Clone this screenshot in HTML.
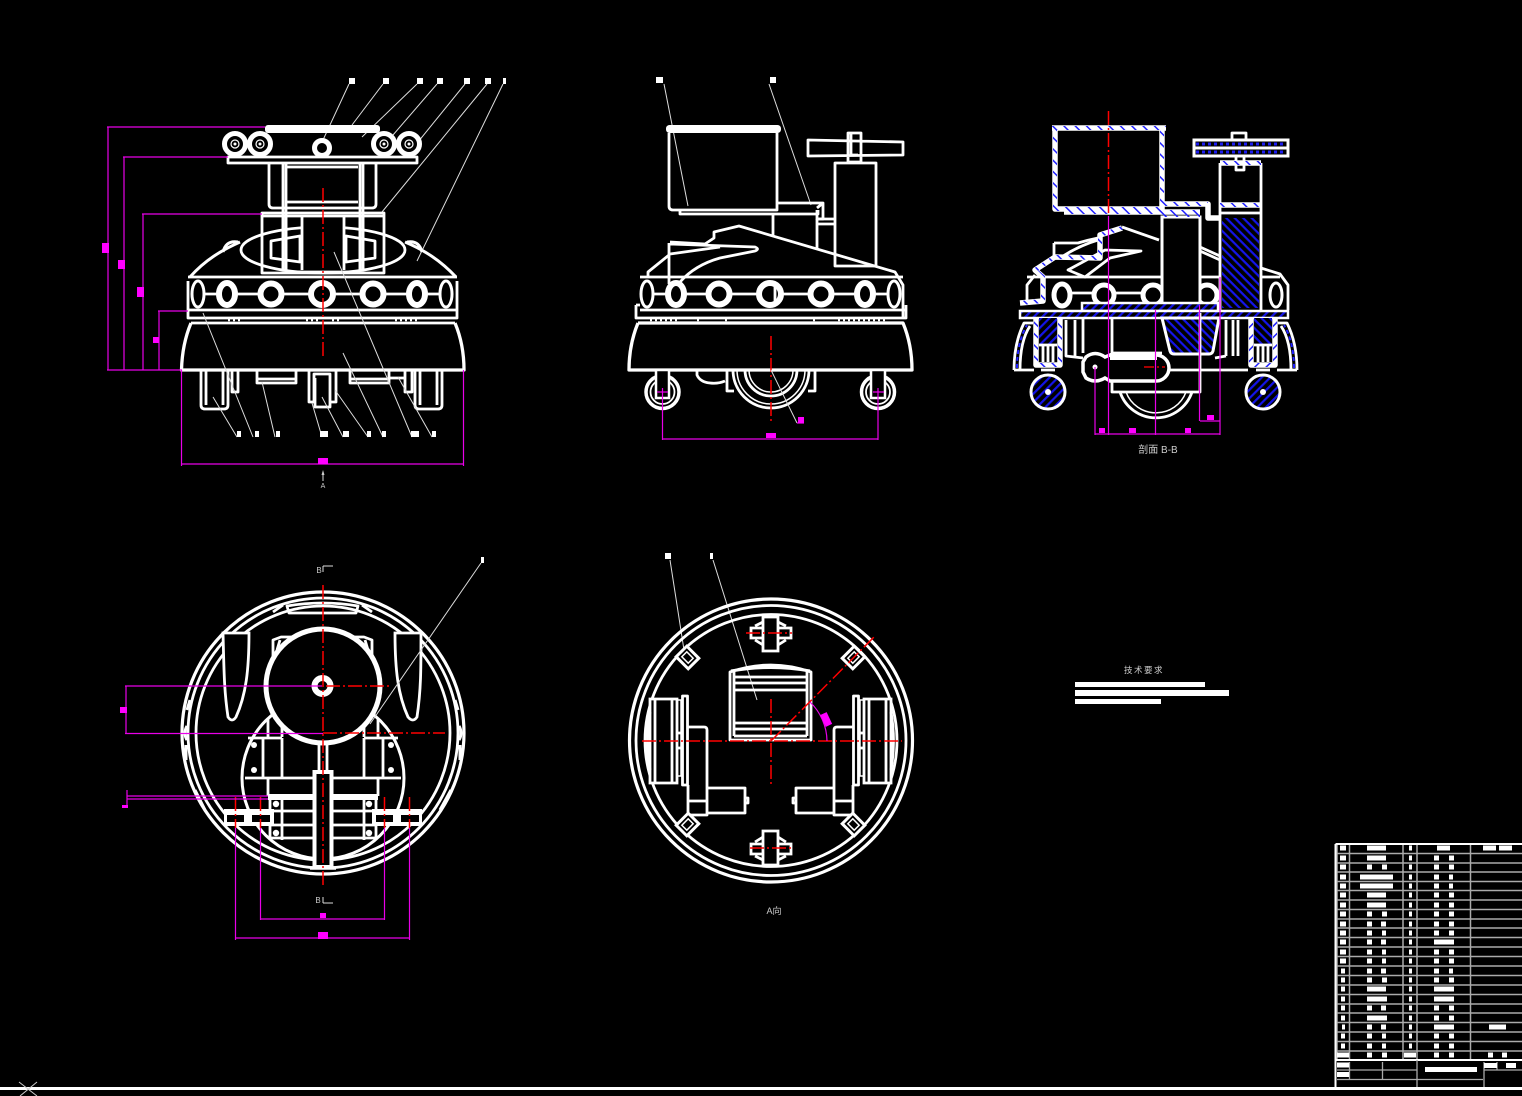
<!DOCTYPE html>
<html><head><meta charset="utf-8"><style>
html,body{margin:0;padding:0;background:#000;width:1522px;height:1096px;overflow:hidden}
svg{display:block}
.w{fill:none;stroke:#fff;stroke-width:2.8;stroke-linejoin:round}
.t{fill:none;stroke:#fff;stroke-width:1.5}
.k{fill:none;stroke:#fff;stroke-width:5;stroke-linejoin:round}
.l{fill:none;stroke:#ddd;stroke-width:1}
.m{fill:none;stroke:#e800e8;stroke-width:1.200}
.r{fill:none;stroke:#f00;stroke-width:1.5;stroke-dasharray:14 3 2 3}
.b{fill:none;stroke:#fff;stroke-width:5.500;stroke-linejoin:round}
.d{fill:none;stroke:url(#bh);stroke-width:4;stroke-linejoin:round}
.s{fill:#fff}.p{fill:#f0f}
text{font-family:"Liberation Sans","Noto Sans CJK SC",sans-serif;fill:#ccc}
</style></head><body>
<svg width="1522" height="1096" viewBox="0 0 1522 1096" xmlns="http://www.w3.org/2000/svg">
<defs>
<pattern id="h" width="6" height="6" patternUnits="userSpaceOnUse" patternTransform="rotate(45)"><rect width="6" height="6" fill="#000"/><rect width="6" height="2.200" fill="#1414e8"/></pattern>
<pattern id="g" width="6" height="6" patternUnits="userSpaceOnUse" patternTransform="rotate(-45)"><rect width="6" height="6" fill="#000"/><rect width="6" height="2.200" fill="#1414e8"/></pattern>
<pattern id="bh" width="8" height="8" patternUnits="userSpaceOnUse" patternTransform="rotate(45)"><rect width="8" height="1.500" fill="#2020ff"/></pattern>
</defs>
<rect width="1522" height="1096" fill="#000"/>

<!-- VIEW 1 -->
<g>
<path class="l" d="M349 84L323 140M383 84L352 125M417 84L362 137M437 84L393 135M465 84L418 142M487 84L382 212M503 84L417 261"/>
<path class="s" d="M349 78h6v6h-6zM383 78h6v6h-6zM417 78h6v6h-6zM437 78h6v6h-6zM464 78h6v6h-6zM485 78h6v6h-6zM503 78h3v6h-3z"/>
<rect x="265" y="125" width="115" height="8" rx="3" fill="#fff"/>
<g fill="none" stroke="#fff" stroke-width="5"><circle cx="235" cy="144" r="10.500"/><circle cx="260" cy="144" r="10.500"/><circle cx="384" cy="144" r="10.500"/><circle cx="409" cy="144" r="10.500"/><circle cx="322" cy="148" r="7.500"/></g>
<g fill="none" stroke="#fff" stroke-width="1.200"><circle cx="235" cy="144" r="4"/><circle cx="260" cy="144" r="4"/><circle cx="384" cy="144" r="4"/><circle cx="409" cy="144" r="4"/></g>
<g class="s"><circle cx="235" cy="144" r="1.500"/><circle cx="260" cy="144" r="1.500"/><circle cx="384" cy="144" r="1.500"/><circle cx="409" cy="144" r="1.500"/></g>
<rect class="w" x="228" y="157" width="189" height="6"/>
<path class="w" d="M269 163V204Q269 208 273 208H372Q376 208 376 204V163M283 163V270M286 163V270M360 163V270M363 163V270M286 167H358M286 202H358"/>
<path class="w" d="M262 213H384V273H262Z"/>
<ellipse class="w" cx="323" cy="250" rx="82" ry="23"/>
<path class="w" d="M271 241L300 236V262L271 258ZM375 241L346 236V262L375 258Z"/>
<rect x="303" y="216" width="40" height="55" fill="#000"/>
<path class="w" d="M283 215V270M286 215V270M360 215V270M363 215V270M302 217V270M344 217V270M262 216H384M286 272H360"/>
<path class="k" style="stroke-width:3" d="M190 277C205 260 222 250 240 242M456 277C440 260 424 250 405 242M223 252Q226 240 238 242M422 252Q419 240 407 242"/>
<path class="w" d="M188 277H457M188 281V318H457V281M188 310H457M188 318H457M191 323H455"/>
<path class="w" d="M200 294H446"/>
<g fill="#000" stroke="#fff"><ellipse cx="198" cy="294" rx="6" ry="13" stroke-width="3"/><ellipse cx="227" cy="294" rx="8" ry="11" stroke-width="6"/><circle cx="271" cy="294" r="10.500" stroke-width="6"/><circle cx="322" cy="294" r="11" stroke-width="6"/><circle cx="373" cy="294" r="10.500" stroke-width="6"/><ellipse cx="417" cy="294" rx="8" ry="11" stroke-width="6"/><ellipse cx="446" cy="294" rx="6" ry="13" stroke-width="3"/></g>
<path class="k" style="stroke-width:2.500" stroke-dasharray="2 3" d="M228 320h14M306 320h12M332 320h10M395 320h22"/>
<path class="k" style="stroke-width:3.300" d="M191 323C186 335 182 350 181.500 370H464C464 350 460 335 455 323"/>
<path class="w" d="M201 370V405Q201 409 205 409H224Q228 409 228 405V370M206 370V405M223 370V405M415 370V405Q415 409 419 409H438Q442 409 442 405V370M420 370V405M437 370V405"/>
<path class="w" d="M232 370V392H238V370M257 370V383H296V370M257 379H296M350 370V383H389V370M350 379H389M405 370V392H412V370M390 378H405"/>
<path class="w" d="M309 370V402H314V374H330V402H336V370M315 378V407H330V378M247 370H232"/>
<path class="r" d="M323 188V358"/>
<path class="l" d="M213 397L237 437M203 313L253 437M262 382L275 437M312 403L322 437M322 397L343 437M335 390L368 437M343 353L383 437M334 252L412 437M398 377L432 437"/>
<path class="s" d="M237 431h4v6h-4zM255 431h4v6h-4zM276 431h4v6h-4zM320 431h8v6h-8zM343 431h6v6h-6zM367 431h4v6h-4zM382 431h4v6h-4zM411 431h8v6h-8zM432 431h4v6h-4z"/>
<path class="m" d="M108 127V370M107 127H265M124 157V370M123 157H228M143 214V370M142 214H262M159 311V370M158 311H188M107 370H182M181.500 370V466M463.500 370V466M181 464H463"/>
<path class="p" d="M102 243h7v10h-7zM118 260h7v9h-7zM137 287h7v10h-7zM153 337h6v6h-6zM318 458h10v6h-10z"/>
<path class="l" d="M323 472V481"/><path fill="#ccc" d="M323 470l-1.500 5h3z"/>
<text x="323" y="488" font-size="7" text-anchor="middle">A</text>
</g>

<!-- VIEW 2 -->
<g>
<path class="l" d="M664 84L688 206M769 84L811 205"/>
<path class="s" d="M656 77h7v6h-7zM770 77h6v6h-6z"/>
<rect x="666" y="125" width="115" height="8" rx="3.500" fill="#fff"/>
<path class="w" d="M669 133V206Q669 210 673 210H777V133M680 210V214H818V210M777 203H823V219H817V210M823 203L817 208"/>
<path class="w" d="M773 214V235M817 219V249M817 219H834M817 224H834"/>
<rect class="w" x="835" y="163" width="41" height="103"/>
<path class="w" d="M808 140L903 142V155L808 156ZM848 133H861V162H848ZM851 133V155H858"/>
<path class="w" d="M648 275L648 272L669 255M669 243V284M670 242L705 244M670 254L720 247M705 244L714 238V232L739 226L895 272L903 285V318M670 244L755 247Q760 249 755 251L720 258Q695 265 680 282M648 272V276"/>
<path class="w" d="M640 277H903M640 310H905M640 318H905M636 305V318H906V305M636 305H640"/>
<path class="w" d="M648 294H893"/>
<g fill="#000" stroke="#fff"><ellipse cx="647" cy="294" rx="6" ry="13" stroke-width="3"/><ellipse cx="676" cy="294" rx="8" ry="11" stroke-width="6"/><circle cx="719" cy="294" r="10.500" stroke-width="6"/><circle cx="770" cy="294" r="11" stroke-width="6"/><circle cx="821" cy="294" r="10.500" stroke-width="6"/><ellipse cx="865" cy="294" rx="8" ry="11" stroke-width="6"/><ellipse cx="894" cy="294" rx="6" ry="13" stroke-width="3"/></g>
<path class="w" d="M775 284V304"/>
<path class="k" style="stroke-width:2.500" stroke-dasharray="2 3" d="M650 320h30M697 320h4M725 320h3M813 320h3M838 320h50"/>
<path class="k" style="stroke-width:3.300" d="M638 323C633 335 629 350 629 370H912C912 350 908 335 903 323H638"/>
<g fill="none" stroke="#fff"><circle cx="662.500" cy="392" r="16.500" stroke-width="3.500"/><circle cx="662.500" cy="392" r="12" stroke-width="1.800"/><circle cx="878" cy="392" r="16.500" stroke-width="3.500"/><circle cx="878" cy="392" r="12" stroke-width="1.800"/></g>
<path fill="#000" stroke="#fff" stroke-width="2.500" d="M656 370V398H669V370ZM871 370V398H885V370Z"/>
<path class="w" d="M697 370V375Q700 382 710 383Q718 384 725 381M727 370V391H734M815 370V391H808"/>
<path class="w" d="M733 370A38 38 0 0 0 809 370"/><path class="t" d="M737 370A34 34 0 0 0 805 370"/>
<path class="w" d="M745 370A26 26 0 0 0 797 370"/><path class="t" d="M749 370A22 22 0 0 0 793 370"/>
<path class="r" d="M771 336V424"/>
<path class="l" d="M771 370L797 423"/>
<path class="m" d="M662.500 388V440M878 388V440M662 439H878M657 392H668M873 392H884M797 423H804"/>
<path class="p" d="M766 433h10v5h-10zM798 417h6v6h-6z"/>
</g>

<!-- VIEW 3 -->
<g>
<path class="w" d="M1122 227L1159 240M1054 243V258M1054 243L1078 243Q1088 240 1098 238M1060 258Q1078 246 1098 240"/>
<path class="w" d="M1035 275L1027 285V304M1068 270L1105 250L1141 251L1110 258L1085 277Z"/>
<path class="w" d="M1200 247L1220 256M1200 251L1220 260M1261 268L1280 274L1288 285V310M1027 277H1220M1261 277H1280M1053 293H1220"/>
<g fill="#000" stroke="#fff"><ellipse cx="1062" cy="295" rx="8" ry="11" stroke-width="5"/><circle cx="1104" cy="295" r="10" stroke-width="5"/><circle cx="1153" cy="295" r="10" stroke-width="5"/><circle cx="1207" cy="295" r="10" stroke-width="5"/><ellipse cx="1276" cy="295" rx="6" ry="12" stroke-width="3"/></g>
<rect x="1162" y="217" width="38" height="88" fill="#000" stroke="#fff" stroke-width="3"/>
<rect x="1222" y="218" width="37" height="90" fill="url(#h)"/>
<path class="w" d="M1220 163V310M1261 163V310M1220 213H1261"/>
<rect x="1194" y="140" width="94" height="16" fill="#000" stroke="#fff" stroke-width="3"/>
<path stroke="#fff" stroke-width="3" d="M1194 148H1288"/><path stroke="#1c1cf0" stroke-width="3" stroke-dasharray="3 3" d="M1196 144H1286M1196 152H1286"/>
<path class="w" d="M1232 140V133H1246V140M1236 156V170H1244V156"/>
<g>
<path class="b" d="M1052 128H1166M1055 130V209H1162V130M1064 212H1200M1162 204H1208V218H1220M1220 205H1261M1220 163H1261M1020 303L1043 301V277L1035 270L1055 257L1100 258V235L1122 228"/>
<path class="d" d="M1052 128H1166M1055 130V209H1162V130M1064 212H1200M1162 204H1208M1220 205H1261M1220 163H1261M1160 215H1200M1020 303L1043 301V277L1035 270L1055 257L1100 258V235L1122 228"/>
</g>
<rect x="1082" y="303" width="136" height="8" fill="url(#g)" stroke="#fff" stroke-width="2.500"/>
<rect x="1020" y="311" width="268" height="7" fill="url(#g)" stroke="#fff" stroke-width="2.500"/>
<!-- legs -->
<g>
<rect x="1039" y="318" width="18" height="27" fill="url(#g)"/>
<path class="b" d="M1036 318V365H1060V318"/><path class="d" d="M1036 318V365H1060V318"/>
<path class="w" d="M1039 345H1057M1043 346V362M1048 346V362M1053 346V362M1041 370H1055"/>
</g>
<g transform="translate(2311,0) scale(-1,1)">
<rect x="1039" y="318" width="18" height="27" fill="url(#g)"/>
<path class="b" d="M1036 318V365H1060V318"/><path class="d" d="M1036 318V365H1060V318"/>
<path class="w" d="M1039 345H1057M1043 346V362M1048 346V362M1053 346V362M1041 370H1055"/>
</g>
<path class="w" d="M1014 370C1014 350 1018 335 1024 323H1033M1020 370C1020 350 1024 335 1030 326M1014 370H1034M1297 370C1297 350 1293 335 1287 323H1278M1291 370C1291 350 1287 335 1281 326M1297 370H1277"/>
<path stroke="#2020ff" stroke-width="2" stroke-dasharray="4 3" fill="none" d="M1017 368C1017 350 1021 335 1027 325M1294 368C1294 350 1290 335 1284 325"/>
<path class="w" d="M1066 320V356L1083 358M1075 320V356M1083 318V353M1226 320V356M1233 320V356M1238 320V356M1226 356L1215 358M1170 370H1248"/>
<g stroke="#fff" stroke-width="3" fill="url(#g)"><circle cx="1048" cy="392" r="17"/><circle cx="1263" cy="392" r="17"/></g>
<circle cx="1048" cy="392" r="3" fill="#fff"/><circle cx="1263" cy="392" r="3" fill="#fff"/>
<path fill="url(#h)" stroke="#fff" stroke-width="3" d="M1162 318L1170 351Q1171 354 1174 354H1209Q1212 354 1213 351L1219 318Z"/>
<path class="w" d="M1112 318V353M1200 313V392H1112V382M1112 353H1162"/>
<path fill="#000" stroke="#fff" stroke-width="3.500" d="M1110 355H1156A13 13 0 0 1 1156 381H1110L1105 378Q1095 384 1086 378L1083 372V362L1086 357Q1095 350 1105 357Z"/>
<rect x="1110" y="353" width="47" height="7" fill="#fff"/>
<circle cx="1095" cy="367" r="2.500" fill="#fff"/>
<path class="w" d="M1120 392A38 38 0 0 0 1192 392"/><path class="t" d="M1126 392A32 32 0 0 0 1186 392"/>
<path class="r" d="M1108.500 111V215"/>
<path stroke="#d00" stroke-width="1.500" stroke-dasharray="10 3 2 3" d="M1144 367H1165"/>
<path class="m" d="M1095 367V435M1108.500 216V435M1155.500 310V435M1199.500 305V421M1220 277V435M1095 434H1220M1200 421H1220"/>
<path class="p" d="M1099 428h6v5h-6zM1129 428h7v5h-7zM1185 428h6v5h-6zM1207 415h7v5h-7z"/>
<text x="1158" y="453" font-size="10" text-anchor="middle">剖面 B-B</text>
</g>

<!-- VIEW 4 -->
<g>
<g fill="none" stroke="#fff"><circle cx="323" cy="733" r="141" stroke-width="3.200"/><circle cx="323" cy="733" r="135" stroke-width="2.800"/><circle cx="323" cy="733" r="127" stroke-width="2.800"/></g>
<path class="w" d="M287 606Q323 600 358 606L356 613H289ZM283 605L273 612M362 605L372 612"/>
<path class="k" style="stroke-width:3" d="M187 710L190 700M458 710L455 700M186 760V745M460 760V745M195 790L205 810M451 790L440 810M187 740Q183 733 187 726M459 740Q463 733 459 726"/>
<path fill="#000" stroke="#fff" stroke-width="2.800" d="M223 633H249C249 670 246 695 236 717Q232 723 228 717C224 690 224 670 223 633ZM421 633H395C395 670 398 695 408 717Q413 723 417 717C421 690 421 670 421 633Z"/>
<circle cx="323" cy="778" r="81" fill="none" stroke="#fff" stroke-width="3"/>
<path class="w" d="M273 665V640L281 637H292M372 665V640L364 637H353M280 640L277 650M365 640L368 650"/>
<circle cx="323" cy="686" r="57" fill="#000" stroke="#fff" stroke-width="5"/>
<circle cx="322.500" cy="686" r="8" fill="#000" stroke="#fff" stroke-width="6"/>
<path class="w" d="M268 718V737M282 725V737M378 718V737M364 725V737M248 738H282M364 738H398M263 738V778M282 738V778M364 738V778M383 738V778M268 778V796M378 778V796M245 778H401"/>
<circle cx="254" cy="745" r="3" fill="#fff"/><circle cx="254" cy="770" r="3" fill="#fff"/><circle cx="391" cy="745" r="3" fill="#fff"/><circle cx="391" cy="770" r="3" fill="#fff"/>
<rect x="268" y="794" width="46" height="6" fill="#fff"/><rect x="332" y="794" width="46" height="6" fill="#fff"/>
<path class="w" d="M270 800V840M376 800V840M282 800V840M364 800V840M270 811H376M270 825H376M270 838H376"/>
<rect x="224" y="809" width="50" height="17" fill="#fff"/><rect x="372" y="809" width="50" height="17" fill="#fff"/>
<path d="M227 815h17v7h-17zM252 815h18v7h-18zM376 815h17v7h-17zM401 815h18v7h-18z" fill="#000"/>
<circle cx="276" cy="804" r="3.200" fill="#fff"/><circle cx="276" cy="833" r="3.200" fill="#fff"/><circle cx="369" cy="804" r="3.200" fill="#fff"/><circle cx="369" cy="833" r="3.200" fill="#fff"/>
<path class="w" d="M319 744V771M327 744V771"/>
<rect x="314.500" y="772" width="17" height="95" fill="#000" stroke="#fff" stroke-width="4"/>
<path class="k" style="stroke-width:3.500" d="M310 868H336"/>
<path class="r" d="M323 585V888M326 686H390M323 733H445M235.500 797V828M260.500 797V828M384.500 797V828M409.500 797V828"/>
<path class="m" d="M125 686H322M125 733.500H323M126 686V734M127 790V808M127 796H268M127 799H268M235.500 828V940M409.500 828V940M235 938H410M260.500 828V920M384.500 828V920M260 919H385"/>
<path class="p" d="M120 707h7v6h-7zM122 805h6v3h-6zM318 932h10v7h-10zM320 913h6v5h-6z"/>
<path class="l" d="M481 563L370 724"/>
<path class="s" d="M481 557h3v6h-3z"/>
<path class="l" d="M323 566H333M323 566V572M323 903H333M323 897V903"/>
<text x="319" y="573" font-size="8" text-anchor="middle">B</text>
<text x="318" y="903" font-size="8" text-anchor="middle">B</text>
</g>

<!-- VIEW 5 -->
<g>
<path class="l" d="M670 560L684 650M713 560L757 700"/>
<path class="s" d="M665 553h6v6h-6zM710 553h3v6h-3z"/>
<g fill="none" stroke="#fff"><circle cx="771" cy="740.500" r="141.500" stroke-width="3.200"/><circle cx="771" cy="740.500" r="135" stroke-width="2.800"/><circle cx="771" cy="740.500" r="126" stroke-width="2.800"/></g>
<path class="w" d="M730 740V672Q771 658 811 672V740ZM734 677H807M734 683H807M734 690H807M734 723H807M734 729H807M734 736H807M734 672V736M807 672V736"/>
<path class="k" style="stroke-width:3" d="M731 671Q771 664 810 671"/>
<g>
<path fill="#000" stroke="#fff" stroke-width="2.800" d="M650 699H677V783H650ZM655 699V783M672 699V783"/>
<path class="w" d="M650 712Q645 741 650 770"/>
<rect x="677" y="700" width="4" height="76" fill="none" stroke="#fff" stroke-width="1.500"/>
<rect class="w" x="682.500" y="696" width="5" height="89"/>
<path class="w" d="M677 733H682M677 748H682"/>
<path class="w" d="M688 727H704Q707 727 707 730V815H688M688 785V815M688 801H707M707 788H745V813H707M745 798H748V803H745"/>
</g>
<g transform="translate(1541,0) scale(-1,1)">
<path fill="#000" stroke="#fff" stroke-width="2.800" d="M650 699H677V783H650ZM655 699V783M672 699V783"/>
<path class="w" d="M650 712Q645 741 650 770"/>
<rect x="677" y="700" width="4" height="76" fill="none" stroke="#fff" stroke-width="1.500"/>
<rect class="w" x="682.500" y="696" width="5" height="89"/>
<path class="w" d="M677 733H682M677 748H682"/>
<path class="w" d="M688 727H704Q707 727 707 730V815H688M688 785V815M688 801H707M707 788H745V813H707M745 798H748V803H745"/>
</g>
<g fill="#000" stroke="#fff" stroke-width="2.800">
<path d="M751 628H791V638H751ZM755 626L763 622M786 626L778 622M755 640L763 645M786 640L778 645"/>
<path d="M763 617H778V651H763Z"/>
</g>
<g fill="#000" stroke="#fff" stroke-width="2.800" transform="translate(0,1482) scale(1,-1)">
<path d="M751 628H791V638H751ZM755 626L763 622M786 626L778 622M755 640L763 645M786 640L778 645"/>
<path d="M763 617H778V651H763Z"/>
</g>
<g fill="#000" stroke="#fff" stroke-width="3">
<g transform="rotate(45 687.500 657.500)"><rect x="679" y="650" width="17" height="15"/><rect x="683" y="654" width="9" height="7" stroke-width="1.500"/></g>
<g transform="rotate(-45 853.500 657.500)"><rect x="845" y="650" width="17" height="15"/><rect x="849" y="654" width="9" height="7" stroke-width="1.500"/></g>
<g transform="rotate(-45 687.500 824.500)"><rect x="679" y="817" width="17" height="15"/><rect x="683" y="821" width="9" height="7" stroke-width="1.500"/></g>
<g transform="rotate(45 853.500 824.500)"><rect x="845" y="817" width="17" height="15"/><rect x="849" y="821" width="9" height="7" stroke-width="1.500"/></g>
</g>
<path class="r" d="M642 741H902M771 699V786M771 741L874 637M746 633H792M750 848H793"/>
<path class="m" d="M810 702A55 55 0 0 1 827 741"/>
<rect x="822.500" y="713" width="7" height="13" fill="#f0f" transform="rotate(-25 826 719)"/>
<text x="774" y="914" font-size="9" text-anchor="middle">A向</text>
</g>

<!-- NOTES -->
<text x="1144" y="673" font-size="8.500" text-anchor="middle" letter-spacing="1.500">技术要求</text>
<path class="s" d="M1075 682h130v5h-130zM1075 690h154v6h-154zM1075 699h86v5h-86z"/>

<!-- TITLE BLOCK -->
<g>
<path fill="none" stroke="#aaa" stroke-width="1.500" d="M1337 853.500H1522M1337 863H1522M1337 872H1522M1337 881.500H1522M1337 890.500H1522M1337 900H1522M1337 909.500H1522M1337 919H1522M1337 928H1522M1337 937.500H1522M1337 947H1522M1337 956.500H1522M1337 966H1522M1337 975.500H1522M1337 985H1522M1337 994.500H1522M1337 1004H1522M1337 1013H1522M1337 1022.500H1522M1337 1032H1522M1337 1041.500H1522M1337 1051H1522M1337 844V1060M1349.500 844V1060M1403 844V1060M1417 844V1060M1470.500 844V1060"/>
<path fill="none" stroke="#fff" stroke-width="2" d="M1335.500 844H1522M1335.500 844V1088M1335 1060H1522"/>
<path fill="none" stroke="#aaa" stroke-width="1.300" d="M1337 1070H1417M1337 1079.500H1483M1349.500 1062V1079M1382.500 1062V1079M1417 1060V1088M1484 1062V1088M1497 1062V1070M1484 1070H1522"/>
<path fill="none" stroke="#fff" stroke-width="5" d="
M1340 848h6M1367 848h19M1409 848h3M1437 848h13M1483 848h13M1499 848h13
M1340 858h6M1367 858h19M1409 858h3M1434 858h5M1449 858h5
M1340 867h6M1367 867h5M1382 867h5M1409 867h3M1434 867h5M1449 867h5
M1340 877h6M1360 877h33M1409 877h3M1434 877h5M1449 877h4
M1340 886h6M1360 886h33M1409 886h3M1434 886h5M1449 886h4
M1340 895h6M1367 895h19M1409 895h3M1434 895h5M1449 895h5
M1340 905h6M1367 905h19M1409 905h3M1434 905h5M1449 905h5
M1340 914h6M1367 914h5M1382 914h5M1409 914h3M1434 914h5M1449 914h5
M1340 924h6M1367 924h5M1381 924h5M1409 924h3M1434 924h5M1449 924h5
M1340 933h6M1367 933h5M1382 933h4M1409 933h3M1434 933h5M1449 933h5
M1340 942h6M1367 942h5M1381 942h5M1409 942h3M1434 942h20
M1340 952h6M1367 952h5M1382 952h4M1409 952h3M1434 952h5M1449 952h5
M1340 961h6M1367 961h5M1382 961h4M1409 961h3M1434 961h5M1449 961h5
M1341 971h4M1367 971h5M1381 971h5M1409 971h3M1434 971h5M1449 971h4
M1341 980h4M1367 980h5M1382 980h5M1409 980h3M1434 980h5M1449 980h5
M1341 989h4M1367 989h19M1409 989h3M1434 989h20
M1341 999h4M1367 999h20M1409 999h3M1434 999h20
M1341 1008h4M1367 1008h5M1381 1008h5M1409 1008h3M1434 1008h5M1449 1008h5
M1341 1018h4M1367 1018h20M1409 1018h3M1434 1018h5M1449 1018h5
M1342 1027h3M1367 1027h5M1381 1027h5M1409 1027h3M1434 1027h20M1489 1027h17
M1341 1036h4M1367 1036h5M1382 1036h4M1409 1036h3M1434 1036h5M1449 1036h5
M1341 1046h4M1367 1046h5M1382 1046h4M1409 1046h3M1434 1046h5M1449 1046h5
M1337 1055h12M1367 1055h5M1382 1055h5M1404 1055h12M1434 1055h5M1449 1055h5M1488 1055h5M1502 1055h5
M1337 1065h12M1337 1074.500h12M1484 1065.500h13M1506 1065.500h10M1425 1069.500h52"/>
</g>

<!-- BOTTOM -->
<rect x="0" y="1087" width="1522" height="3" fill="#fff"/>
<path stroke="#ccc" stroke-width="1" fill="none" d="M19 1082L37 1096M37 1082L20 1096"/>
</svg>
</body></html>
